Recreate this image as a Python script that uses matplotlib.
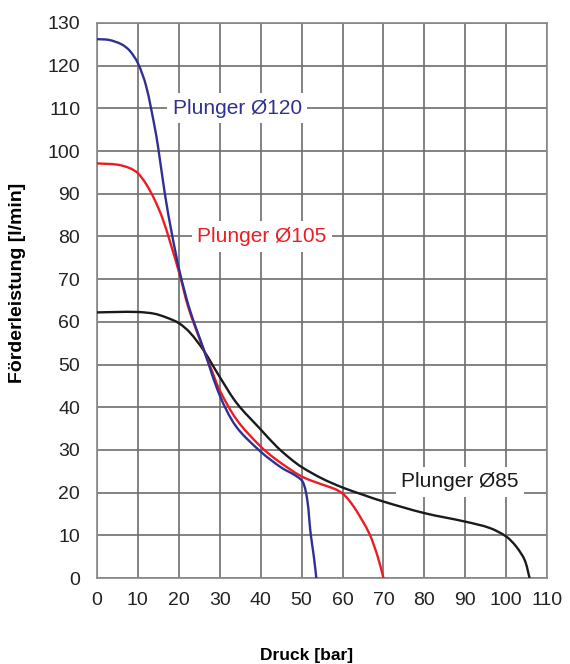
import numpy as np
import matplotlib.pyplot as plt
from matplotlib.path import Path
from matplotlib.patches import PathPatch

plt.rcParams['font.family'] = ['Liberation Sans', 'DejaVu Sans']

# Plunger 120
x_120 = [0, 3, 6, 8, 10, 12, 14, 15, 16.6, 18.3, 20.3, 22.7, 26, 30,
         34, 40, 45, 48.5, 50.3, 51.4, 52.2, 53.0, 53.6]
y_120 = [126.2, 126.0, 125.0, 123.5, 120.6, 115.3, 106.2, 100.6, 90, 80.7, 71.4, 62.8, 53.8, 42.8,
         35.5, 29.6, 25.9, 24.0, 22.5, 18.2, 10.5, 5, 0]

# Plunger 105
x_105 = [0, 5, 8, 10, 12, 14, 16, 18, 20.3, 22.3, 25.2, 27.7, 30,
         34.2, 40, 44, 50, 55, 58, 60, 61.5, 63.3, 66.5, 68.6, 70]
y_105 = [97.1, 96.8, 96.0, 94.8, 92.3, 88.8, 84.3, 78.3, 70.8, 63.5, 55.7, 49.5, 44,
         37, 30.8, 27.6, 23.8, 21.9, 20.9, 19.8, 18.3, 15.9, 10.5, 5, 0]

# Plunger 85
x_85 = [0, 5, 10, 14, 17, 20, 22.7, 26, 30, 34.2, 40, 44, 47.2, 50, 55, 60,
        65, 70, 80, 90, 96, 100, 102.4, 104.5, 105.7]
y_85 = [62.2, 62.3, 62.3, 61.9, 61.0, 59.7, 57.5, 53.4, 47.1, 40.9, 34.8, 30.7, 28.0, 26.0, 23.3, 21.2,
        19.5, 17.9, 15.2, 13.2, 11.7, 9.7, 7.4, 4.2, 0]

labels = ['Plunger Ø120', 'Plunger Ø105', 'Plunger Ø85']

c_blue = '#2e3192'
c_red = '#ed1c24'
c_black = '#1a1a1a'


def smooth_path(xs, ys):
    # smooth curve through the points (chord length tangents, bezier segments)
    p = np.column_stack([xs, ys]).astype(float)
    n = len(p)
    d = np.hypot(np.diff(p[:, 0]), np.diff(p[:, 1]))
    t = np.concatenate([[0], np.cumsum(d)])
    m = np.zeros_like(p)
    m[0] = (p[1] - p[0]) / (t[1] - t[0])
    m[-1] = (p[-1] - p[-2]) / (t[-1] - t[-2])
    for i in range(1, n - 1):
        m[i] = (p[i + 1] - p[i - 1]) / (t[i + 1] - t[i - 1])
    verts = [p[0]]
    codes = [Path.MOVETO]
    for i in range(n - 1):
        h = t[i + 1] - t[i]
        verts += [p[i] + m[i] * h / 3, p[i + 1] - m[i + 1] * h / 3, p[i + 1]]
        codes += [Path.CURVE4] * 3
    return Path(verts, codes)


fig = plt.figure(figsize=(5.7, 6.64), dpi=100)
ax = fig.add_axes([0.170, 0.1295, 0.790, 0.836])

for xs, ys, c, z in [(x_85, y_85, c_black, 3), (x_105, y_105, c_red, 4), (x_120, y_120, c_blue, 5)]:
    ax.add_patch(PathPatch(smooth_path(xs, ys), fill=False, edgecolor=c, lw=1.7, zorder=z,
                           capstyle='butt'))

box = dict(facecolor='white', edgecolor='none', pad=4)
ax.text(34.3, 110, labels[0], color=c_blue, fontsize=15, ha='center', va='center', bbox=box, zorder=6)
ax.text(40.3, 80, labels[1], color=c_red, fontsize=15, ha='center', va='center', bbox=box, zorder=6)
ax.text(88.7, 22.5, labels[2], color=c_black, fontsize=15, ha='center', va='center', bbox=box, zorder=6)

ax.set_xlim(0, 110)
ax.set_ylim(0, 130)
ax.set_xticks(np.arange(0, 111, 10))
ax.set_yticks(np.arange(0, 131, 10))
ax.grid(True, color='#6d6d6d', lw=1.2)
ax.set_axisbelow(True)
for s in ax.spines.values():
    s.set_color('#888888')
    s.set_linewidth(1.2)
ax.tick_params(length=0, labelsize=14, labelcolor='#222222')
ax.tick_params(axis='y', pad=12)
ax.tick_params(axis='x', pad=10)

ax.set_xlabel('Druck [bar]', fontsize=12.5, fontweight='bold')
ax.set_ylabel('Förderleistung [l/min]', fontsize=14, fontweight='bold')
ax.xaxis.label.set_va('center')
ax.yaxis.label.set_va('center')
ax.xaxis.set_label_coords(0.4646, -0.1387)
ax.yaxis.set_label_coords(-0.1756, 0.5315)

plt.savefig('out.png', dpi=100)
